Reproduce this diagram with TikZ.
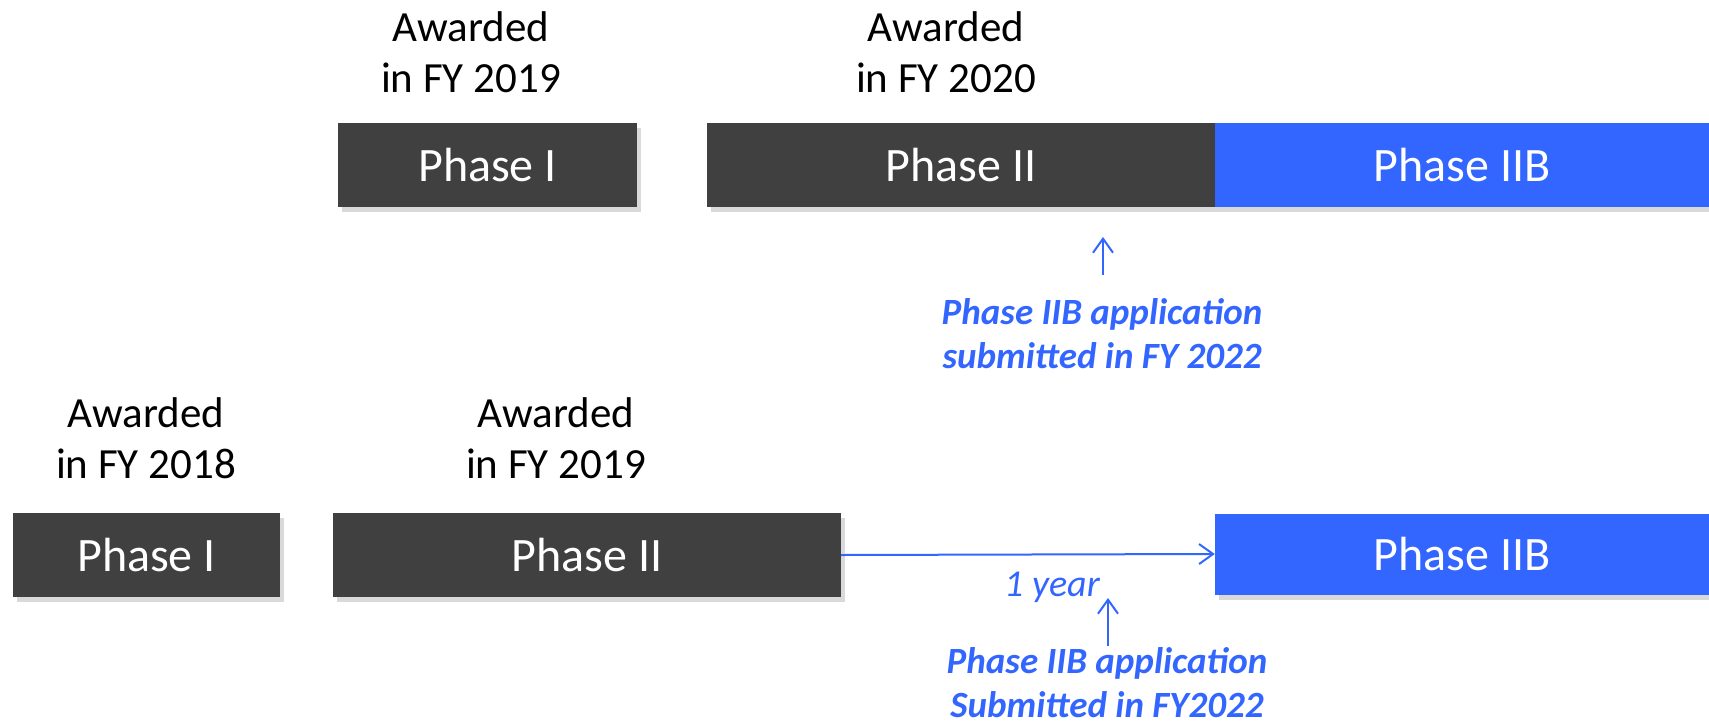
\documentclass[tikz,border=0pt]{standalone}
\usepackage{fontspec}
\setmainfont{Carlito}
\usetikzlibrary{arrows.meta,shadows}
\definecolor{phasegray}{RGB}{64,64,64}
\definecolor{phaseblue}{RGB}{51,102,255}

\begin{document}
\begin{tikzpicture}[x=1pt,y=-1pt]
			\tikzstyle{phase}=[rectangle,fill=phasegray,text=white,inner sep=0pt,minimum height=84pt,font=\fontsize{48}{54}\selectfont,drop shadow={shadow xshift=4pt,shadow yshift=-5pt,opacity=0.3}]
			\tikzstyle{newphase}=[phase,fill=phaseblue]
			\tikzstyle{award}=[align=center,inner sep=0pt,font=\fontsize{43}{51}\selectfont]
			\tikzstyle{note}=[align=center,inner sep=0pt,text=phaseblue,font=\fontsize{37}{44}\selectfont\bfseries\itshape]
			\tikzstyle{tip}=[draw=phaseblue,line width=2pt,-{Straight Barb[length=14pt,width=20pt,line width=2pt]}]
			\useasboundingbox (0,0) rectangle (1709,721);
			% upper track
			\node (a)[award] at (471,52) {Awarded\\in FY 2019};
			\node (b)[award] at (946,52) {Awarded\\in FY 2020};
			\node (c)[phase,minimum width=299pt] at (487.5,165) {Phase I};
			\node (d)[phase,minimum width=508pt] at (961,165) {Phase II};
			\node (e)[newphase,minimum width=494pt] at (1462,165) {Phase IIB};
			\node (f)[note] at (1102,334) {Phase IIB application\\submitted in FY 2022};
			\coordinate (g) at (1103,237);
			\draw[tip] (f.north -| g) ++(0,-24) -- (g);
			% lower track
			\node (h)[award] at (146,438) {Awarded\\in FY 2018};
			\node (i)[award] at (556,438) {Awarded\\in FY 2019};
			\node (j)[phase,minimum width=267pt] at (146.5,555) {Phase I};
			\node (k)[phase,minimum width=508pt] at (587,555) {Phase II};
			\node (l)[newphase,minimum width=494pt,minimum height=81pt] at (1462,554) {Phase IIB};
			\draw[tip] (k.east) -- (l.west);
			\node (m)[text=phaseblue,inner sep=0pt,font=\fontsize{38}{44}\selectfont\itshape] at (1052,587) {1 year};
			\node (n)[note] at (1107,683) {Phase IIB application\\Submitted in FY2022};
			\coordinate (o) at (1108,598);
			\draw[tip] (n.north -| o) ++(0,-2) -- (o);
		\end{tikzpicture}
\end{document}
